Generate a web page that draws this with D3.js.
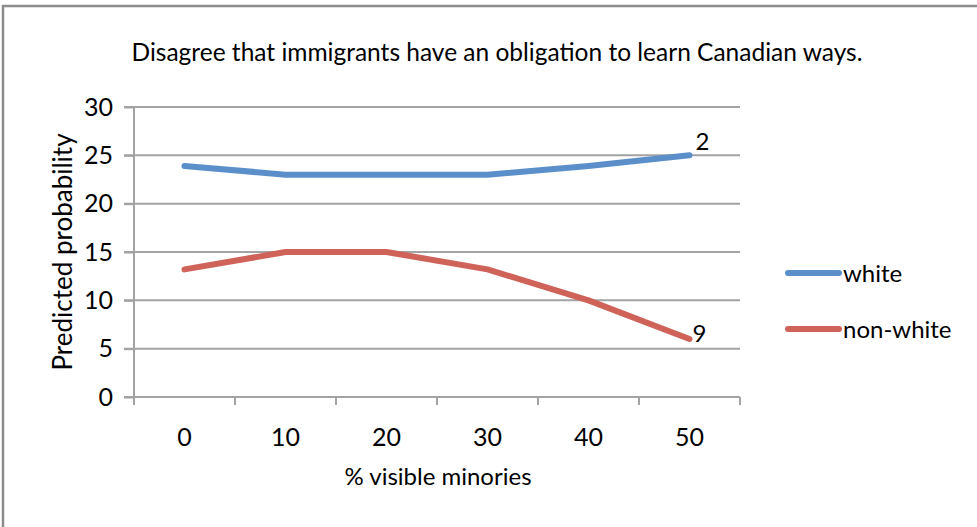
<!DOCTYPE html>
<html>
<head>
<meta charset="utf-8">
<script src="https://cdn.jsdelivr.net/npm/d3@7"></script>
<style>
  html, body { margin: 0; padding: 0; background: #fff; }
  svg text { font-family: Lato, "Open Sans", sans-serif; fill: #000; }
</style>
</head>
<body>
<svg id="chart" width="977" height="527"></svg>
<script>
// Categories and series
const categories = ["0", "10", "20", "30", "40", "50"];
const whiteValues = [23.9, 23.0, 23.0, 23.0, 23.9, 25.0];
const nonWhiteValues = [13.2, 15.0, 15.0, 13.2, 10.0, 6.0];
const seriesNames = ["white", "non-white"];
const endLabels = ["2", "9"];
const yTicks = [0, 5, 10, 15, 20, 25, 30];

const titleText = "Disagree that immigrants have an obligation to learn Canadian ways.";
const xTitle = "% visible minories";
const yTitle = "Predicted probability";

const svg = d3.select("#chart");
const W = 977, H = 527;
const plot = { left: 134, right: 740, top: 107, bottom: 397 };
const gridColor = "#a3a3a3";
const colors = ["#5b8fc9", "#cf6259"];
const labelSize = "24px";
const tickSize = "25px";

// Outer frame (top and left edges visible)
svg.append("path")
  .attr("d", `M3,${H} L3,6 L${W},6`)
  .attr("fill", "none")
  .attr("stroke", "#8c8c8c")
  .attr("stroke-width", 2.5);

const x = d3.scaleBand().domain(categories).range([plot.left, plot.right]);
const y = d3.scaleLinear().domain([0, 30]).range([plot.bottom, plot.top]);

// Horizontal gridlines
svg.append("g")
  .selectAll("line")
  .data(yTicks.filter(d => d > 0))
  .join("line")
  .attr("x1", plot.left - 10).attr("x2", plot.right)
  .attr("y1", d => y(d)).attr("y2", d => y(d))
  .attr("stroke", gridColor).attr("stroke-width", 2);

// Y axis
const yAxis = svg.append("g")
  .attr("transform", `translate(${plot.left},0)`)
  .call(d3.axisLeft(y).tickValues(yTicks).tickSize(10).tickPadding(11));
yAxis.select(".domain").attr("stroke", gridColor).attr("stroke-width", 2)
  .attr("d", `M0,${plot.top}V${plot.bottom + 8}`);
yAxis.selectAll(".tick line").attr("stroke", gridColor).attr("stroke-width", 2);
yAxis.selectAll(".tick text").style("font-size", tickSize);

// X axis with tick marks between categories
const xAxisG = svg.append("g").attr("transform", `translate(0,${plot.bottom})`);
xAxisG.append("line")
  .attr("x1", plot.left - 10).attr("x2", plot.right)
  .attr("stroke", gridColor).attr("stroke-width", 2);
const boundaries = categories.map(c => x(c)).concat([x(categories[categories.length - 1]) + x.bandwidth()]);
xAxisG.selectAll(".xtick")
  .data(boundaries)
  .join("line")
  .attr("class", "xtick")
  .attr("x1", d => d).attr("x2", d => d)
  .attr("y1", 0).attr("y2", 8)
  .attr("stroke", gridColor).attr("stroke-width", 2);
xAxisG.selectAll(".xlab")
  .data(categories)
  .join("text")
  .attr("class", "xlab")
  .attr("x", d => x(d) + x.bandwidth() / 2)
  .attr("y", 49)
  .attr("text-anchor", "middle")
  .style("font-size", tickSize)
  .text(d => d);

// Series lines
const line = d3.line()
  .x((d, i) => x(categories[i]) + x.bandwidth() / 2)
  .y(d => y(d));
const allSeries = [whiteValues, nonWhiteValues];
svg.append("g")
  .selectAll("path")
  .data(allSeries)
  .join("path")
  .attr("d", d => line(d))
  .attr("fill", "none")
  .attr("stroke", (d, i) => colors[i])
  .attr("stroke-width", 6)
  .attr("stroke-linecap", "round")
  .attr("stroke-linejoin", "round");

// End-point labels
const lastCat = categories[categories.length - 1];
svg.append("g")
  .selectAll("text")
  .data(allSeries)
  .join("text")
  .attr("x", x(lastCat) + x.bandwidth() / 2)
  .attr("dx", (d, i) => i === 0 ? 6 : 3)
  .attr("y", (d, i) => y(d[d.length - 1]) + (i === 0 ? -5 : 3))
  .style("font-size", labelSize)
  .text((d, i) => endLabels[i]);

// Legend
const legend = svg.append("g");
const legendY = [273, 329];
seriesNames.forEach((name, i) => {
  legend.append("line")
    .attr("x1", 788).attr("x2", 839)
    .attr("y1", legendY[i]).attr("y2", legendY[i])
    .attr("stroke", colors[i]).attr("stroke-width", 6)
    .attr("stroke-linecap", "round");
  legend.append("text")
    .attr("x", 843).attr("y", legendY[i] + 9)
    .style("font-size", labelSize)
    .text(name);
});

// Titles
svg.append("text")
  .attr("x", 497).attr("y", 61)
  .attr("text-anchor", "middle")
  .style("font-size", "24.5px")
  .text(titleText);

svg.append("text")
  .attr("x", 438).attr("y", 485)
  .attr("text-anchor", "middle")
  .style("font-size", labelSize)
  .text(xTitle);

svg.append("text")
  .attr("transform", `translate(72,252) rotate(-90)`)
  .attr("text-anchor", "middle")
  .style("font-size", "26px")
  .text(yTitle);
</script>
</body>
</html>
